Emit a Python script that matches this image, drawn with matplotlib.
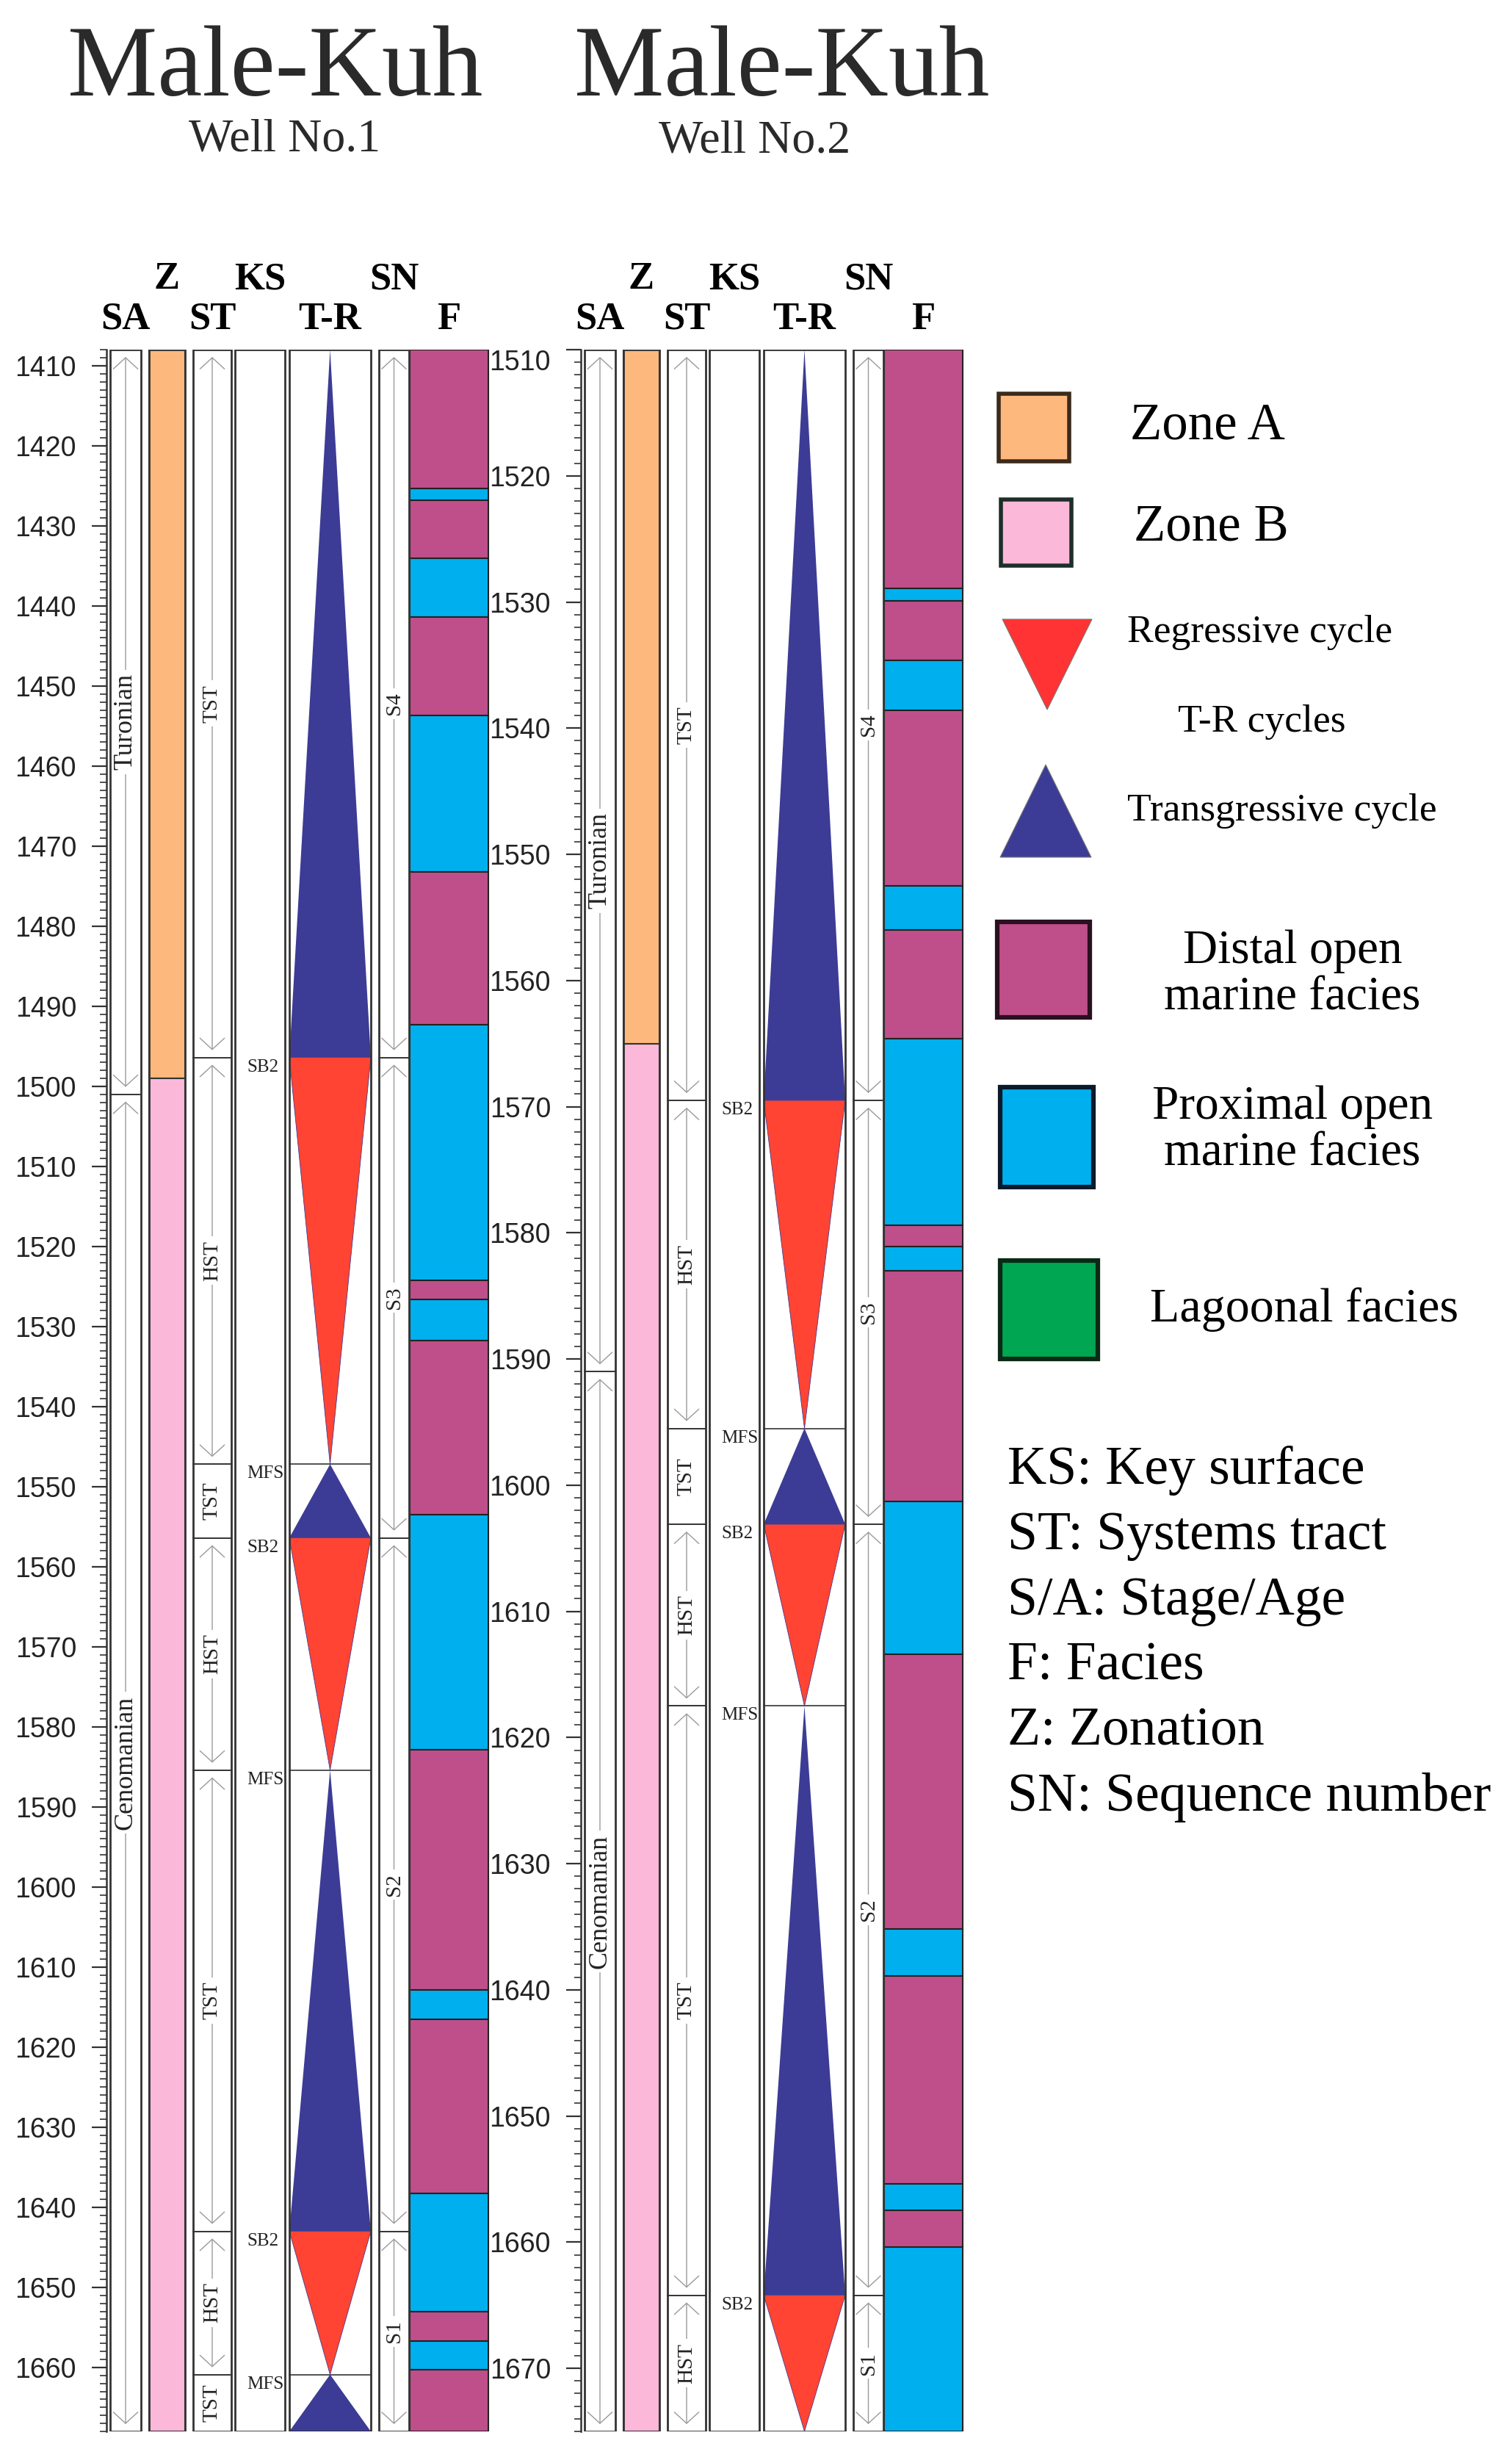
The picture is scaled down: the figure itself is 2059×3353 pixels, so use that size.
import numpy as np
import matplotlib
matplotlib.use('Agg')
import matplotlib.pyplot as plt
import matplotlib.patches as patches
from matplotlib.ticker import MultipleLocator

plt.rcParams['font.family'] = ['Liberation Serif', 'DejaVu Serif']

# ---------------- data: well 1 (depth, m) ----------------
w1_top, w1_base = 1408, 1668
w1_stage_labels = ['Turonian', 'Cenomanian']
w1_stage_tops = [1408, 1501]
w1_zone_tops = [1408, 1499]            # Zone A, Zone B
w1_st_labels = ['TST', 'HST', 'TST', 'HST', 'TST', 'HST', 'TST']
w1_st_tops = [1408, 1496.4, 1547.2, 1556.4, 1585.4, 1643.0, 1660.9]
w1_seq_labels = ['S4', 'S3', 'S2', 'S1']
w1_seq_tops = [1408, 1496.4, 1556.4, 1643.0]
w1_ks_labels = ['SB2', 'MFS', 'SB2', 'MFS', 'SB2', 'MFS']
w1_ks_depths = [1496.4, 1547.2, 1556.4, 1585.4, 1643.0, 1660.9]
w1_tr_depths = [1408, 1496.4, 1547.2, 1556.4, 1585.4, 1643.0, 1660.9, 1668]
w1_tr_width = [0, 1, 0, 1, 0, 1, 0, 1]
w1_facies_tops = [1408, 1425.3, 1426.8, 1434.1, 1441.4, 1453.7, 1473.2, 1492.3,
                  1524.2, 1526.6, 1531.8, 1553.5, 1582.9, 1612.9, 1616.5,
                  1638.3, 1653.0, 1656.7, 1660.3]
w1_facies = ['D', 'P', 'D', 'P', 'D', 'P', 'D', 'P', 'D', 'P', 'D', 'P', 'D',
             'P', 'D', 'P', 'D', 'P', 'D']

# ---------------- data: well 2 ----------------
w2_top, w2_base = 1510, 1675
w2_stage_labels = ['Turonian', 'Cenomanian']
w2_stage_tops = [1510, 1591]
w2_zone_tops = [1510, 1565]
w2_st_labels = ['TST', 'HST', 'TST', 'HST', 'TST', 'HST']
w2_st_tops = [1510, 1569.5, 1595.5, 1603.1, 1617.5, 1664.2]
w2_seq_labels = ['S4', 'S3', 'S2', 'S1']
w2_seq_tops = [1510, 1569.5, 1603.1, 1664.2]
w2_ks_labels = ['SB2', 'MFS', 'SB2', 'MFS', 'SB2']
w2_ks_depths = [1569.5, 1595.5, 1603.1, 1617.5, 1664.2]
w2_tr_depths = [1510, 1569.5, 1595.5, 1603.1, 1617.5, 1664.2, 1675]
w2_tr_width = [0, 1, 0, 1, 0, 1, 0]
w2_facies_tops = [1510, 1528.9, 1529.9, 1534.6, 1538.6, 1552.5, 1556.0, 1564.6,
                  1579.4, 1581.1, 1583.0, 1601.3, 1613.4, 1635.2, 1638.9,
                  1655.4, 1657.5, 1660.4]
w2_facies = ['D', 'P', 'D', 'P', 'D', 'P', 'D', 'P', 'D', 'P', 'D', 'P', 'D',
             'P', 'D', 'P', 'D', 'P']

# colours
zone_colors = ['#FDB97D', '#FBB8D8']
facies_colors = {'D': '#BF4F8A', 'P': '#00B0EE', 'L': '#00A651'}
trans_color = '#3C3C96'
regr_color = '#FF4433'

# headers / abbreviations
headers_top = ['Z', 'KS', 'SN']
headers_bottom = ['SA', 'ST', 'T-R', 'F']
abbrevs = ['KS: Key surface', 'ST: Systems tract', 'S/A: Stage/Age',
           'F: Facies', 'Z: Zonation', 'SN: Sequence number']

# layout (pixels)
W, H = 2059, 3353
AX_TOP, AX_BOT = 476, 3310
AX_W = 525
cols = {'SA': (5, 47), 'Z': (58, 107), 'ST': (118, 170), 'KS': (175, 243),
        'T-R': (249, 360), 'SN': (371, 412), 'F': (413, 520)}

fig = plt.figure(figsize=(W / 100, H / 100), dpi=100)
fig.patch.set_facecolor('white')

edge = '#333333'


def box(ax, name, top, base, z=5):
    x0, x1 = cols[name]
    ax.add_patch(patches.Rectangle((x0, top), x1 - x0, base - top, fill=False,
                                   ec=edge, lw=2.0, zorder=z))


def interval_column(ax, name, tops, base, labels, size, mpp):
    x0, x1 = cols[name]
    cx = (x0 + x1) / 2
    bounds = list(tops) + [base]
    for i, lab in enumerate(labels):
        d0, d1 = bounds[i], bounds[i + 1]
        if i > 0:
            ax.plot([x0, x1], [d0, d0], color=edge, lw=1.4, zorder=3)
        if (d1 - d0) / mpp > 150:
            ax.annotate('', xy=(cx, d0 + 10 * mpp), xytext=(cx, d1 - 10 * mpp),
                        arrowprops=dict(arrowstyle='<->,head_length=1.1,head_width=1.2',
                                        color='#9a9a9a', lw=1.0,
                                        shrinkA=0, shrinkB=0), zorder=2)
        ax.text(cx, (d0 + d1) / 2, lab, rotation=90, ha='center', va='center',
                fontsize=size, color='#222222', zorder=4,
                bbox=dict(fc='white', ec='none', pad=4))
    box(ax, name, bounds[0], base)


def draw_well(left_px, top, base, stage_tops, stage_labels, zone_tops,
              st_tops, st_labels, seq_tops, seq_labels, ks_depths, ks_labels,
              tr_depths, tr_width, facies_tops, facies):
    ax = fig.add_axes([left_px / W, 1 - AX_BOT / H, AX_W / W, (AX_BOT - AX_TOP) / H])
    ax.set_xlim(0, AX_W)
    ax.set_ylim(base, top)
    mpp = (base - top) / (AX_BOT - AX_TOP)

    # stage / age
    interval_column(ax, 'SA', stage_tops, base, stage_labels, 26, mpp)

    # zonation
    zb = list(zone_tops) + [base]
    x0, x1 = cols['Z']
    for i in range(len(zone_tops)):
        ax.add_patch(patches.Rectangle((x0, zb[i]), x1 - x0, zb[i + 1] - zb[i],
                                       fc=zone_colors[i], ec=edge, lw=1.5, zorder=2))
    box(ax, 'Z', top, base)

    # systems tracts and sequences
    interval_column(ax, 'ST', st_tops, base, st_labels, 21, mpp)
    interval_column(ax, 'SN', seq_tops, base, seq_labels, 21, mpp)

    # key surfaces
    box(ax, 'KS', top, base)
    for d, lab in zip(ks_depths, ks_labels):
        ax.annotate(lab, xy=(191, d), xytext=(0, -1.5), textcoords='offset points',
                    ha='left', va='top', fontsize=18, color='#222222', zorder=6)

    # T-R cycles
    x0, x1 = cols['T-R']
    cx, hw = (x0 + x1) / 2, (x1 - x0) / 2
    for i in range(len(tr_depths) - 1):
        d0, d1 = tr_depths[i], tr_depths[i + 1]
        w0, w1 = tr_width[i] * hw, tr_width[i + 1] * hw
        col = trans_color if w1 > w0 else regr_color
        ax.add_patch(patches.Polygon([(cx - w0, d0), (cx + w0, d0), (cx + w1, d1),
                                      (cx - w1, d1)], closed=True, fc=col,
                                     ec=trans_color if col == regr_color else 'none',
                                     lw=0.6, zorder=3))
    for d, lab in zip(ks_depths, ks_labels):
        if lab == 'MFS':
            ax.plot([x0, x1], [d, d], color='#444444', lw=1.3, zorder=2)
    box(ax, 'T-R', top, base)

    # facies
    fb = list(facies_tops) + [base]
    x0, x1 = cols['F']
    for i, f in enumerate(facies):
        ax.add_patch(patches.Rectangle((x0, fb[i]), x1 - x0, fb[i + 1] - fb[i],
                                       fc=facies_colors[f], ec='#222222', lw=1.5, zorder=3))

    # depth axis
    for s in ['top', 'right', 'bottom']:
        ax.spines[s].set_visible(False)
    ax.spines['left'].set_linewidth(1.8)
    ax.spines['left'].set_color('#333333')
    ax.set_xticks([])
    ax.yaxis.set_major_locator(MultipleLocator(10))
    ax.yaxis.set_minor_locator(MultipleLocator(1))
    ax.tick_params(axis='y', which='major', length=14.5, width=1.6, pad=15,
                   labelsize=27, labelcolor='#222222', color='#333333',
                   labelfontfamily='Liberation Sans')
    ax.tick_params(axis='y', which='minor', length=6.5, width=1.2, color='#333333')
    ax.set_facecolor('none')
    return ax


ax1 = draw_well(145, w1_top, w1_base, w1_stage_tops, w1_stage_labels, w1_zone_tops,
                w1_st_tops, w1_st_labels, w1_seq_tops, w1_seq_labels,
                w1_ks_depths, w1_ks_labels, w1_tr_depths, w1_tr_width,
                w1_facies_tops, w1_facies)
ax2 = draw_well(791, w2_top, w2_base, w2_stage_tops, w2_stage_labels, w2_zone_tops,
                w2_st_tops, w2_st_labels, w2_seq_tops, w2_seq_labels,
                w2_ks_depths, w2_ks_labels, w2_tr_depths, w2_tr_width,
                w2_facies_tops, w2_facies)
ax2.set_yticks(np.arange(1510, 1671, 10))
ax2.yaxis.get_major_ticks()[0].label1.set_verticalalignment('top')

# ---------------- overlay in pixel coordinates ----------------
ov = fig.add_axes([0, 0, 1, 1])
ov.set_xlim(0, W)
ov.set_ylim(H, 0)
ov.axis('off')
ov.set_facecolor('none')

ov.text(375, 97, 'Male-Kuh', ha='center', va='center', fontsize=99, color='#2a2a2a')
ov.text(1065, 97, 'Male-Kuh', ha='center', va='center', fontsize=99, color='#2a2a2a')
ov.text(388, 190, 'Well No.1', ha='center', va='center', fontsize=46, color='#2a2a2a')
ov.text(1028, 192, 'Well No.2', ha='center', va='center', fontsize=46, color='#2a2a2a')

for left in [145, 791]:
    for lab in headers_top:
        x0, x1 = cols[lab]
        ov.text(left + (x0 + x1) / 2, 380, lab, ha='center', va='center',
                fontsize=38, fontweight='bold', color='black')
    for lab in headers_bottom:
        x0, x1 = cols[lab]
        ov.text(left + (x0 + x1) / 2, 435, lab, ha='center', va='center',
                fontsize=38, fontweight='bold', color='black')

# legend
ov.add_patch(patches.Rectangle((1360, 536), 96, 92, fc=zone_colors[0], ec='#3b2a1c', lw=4))
ov.text(1539, 580, 'Zone A', ha='left', va='center', fontsize=51)
ov.add_patch(patches.Rectangle((1363, 680), 96, 90, fc=zone_colors[1], ec='#1e2e28', lw=4))
ov.text(1544, 718, 'Zone B', ha='left', va='center', fontsize=51)
ov.add_patch(patches.Polygon([(1365, 843), (1487, 843), (1426, 966)], closed=True,
                             fc='#FF3333', ec='#777777', lw=0.8))
ov.text(1535, 861, 'Regressive cycle', ha='left', va='center', fontsize=38.5)
ov.text(1604, 983, 'T-R cycles', ha='left', va='center', fontsize=38.5)
ov.add_patch(patches.Polygon([(1362, 1167), (1486, 1167), (1424, 1041)], closed=True,
                             fc=trans_color, ec='#777777', lw=0.8))
ov.text(1535, 1104, 'Transgressive cycle', ha='left', va='center', fontsize=38.5)
ov.add_patch(patches.Rectangle((1358, 1255), 126, 130, fc=facies_colors['D'], ec='#2a1020', lw=4.5))
ov.text(1760, 1327, 'Distal open\nmarine facies', ha='center', va='center',
        fontsize=47, linespacing=1.1)
ov.add_patch(patches.Rectangle((1362, 1480), 127, 136, fc=facies_colors['P'], ec='#0a1a2a', lw=4.5))
ov.text(1760, 1539, 'Proximal open\nmarine facies', ha='center', va='center',
        fontsize=47, linespacing=1.1)
ov.add_patch(patches.Rectangle((1362, 1716), 133, 134, fc=facies_colors['L'], ec='#0a2a15', lw=4.5))
ov.text(1566, 1783, 'Lagoonal facies', ha='left', va='center', fontsize=47.5)

for i, t in enumerate(abbrevs):
    ov.text(1372, 2002 + i * 89, t, ha='left', va='center', fontsize=53, color='black')

fig.savefig('out.png', dpi=100, facecolor='white')
